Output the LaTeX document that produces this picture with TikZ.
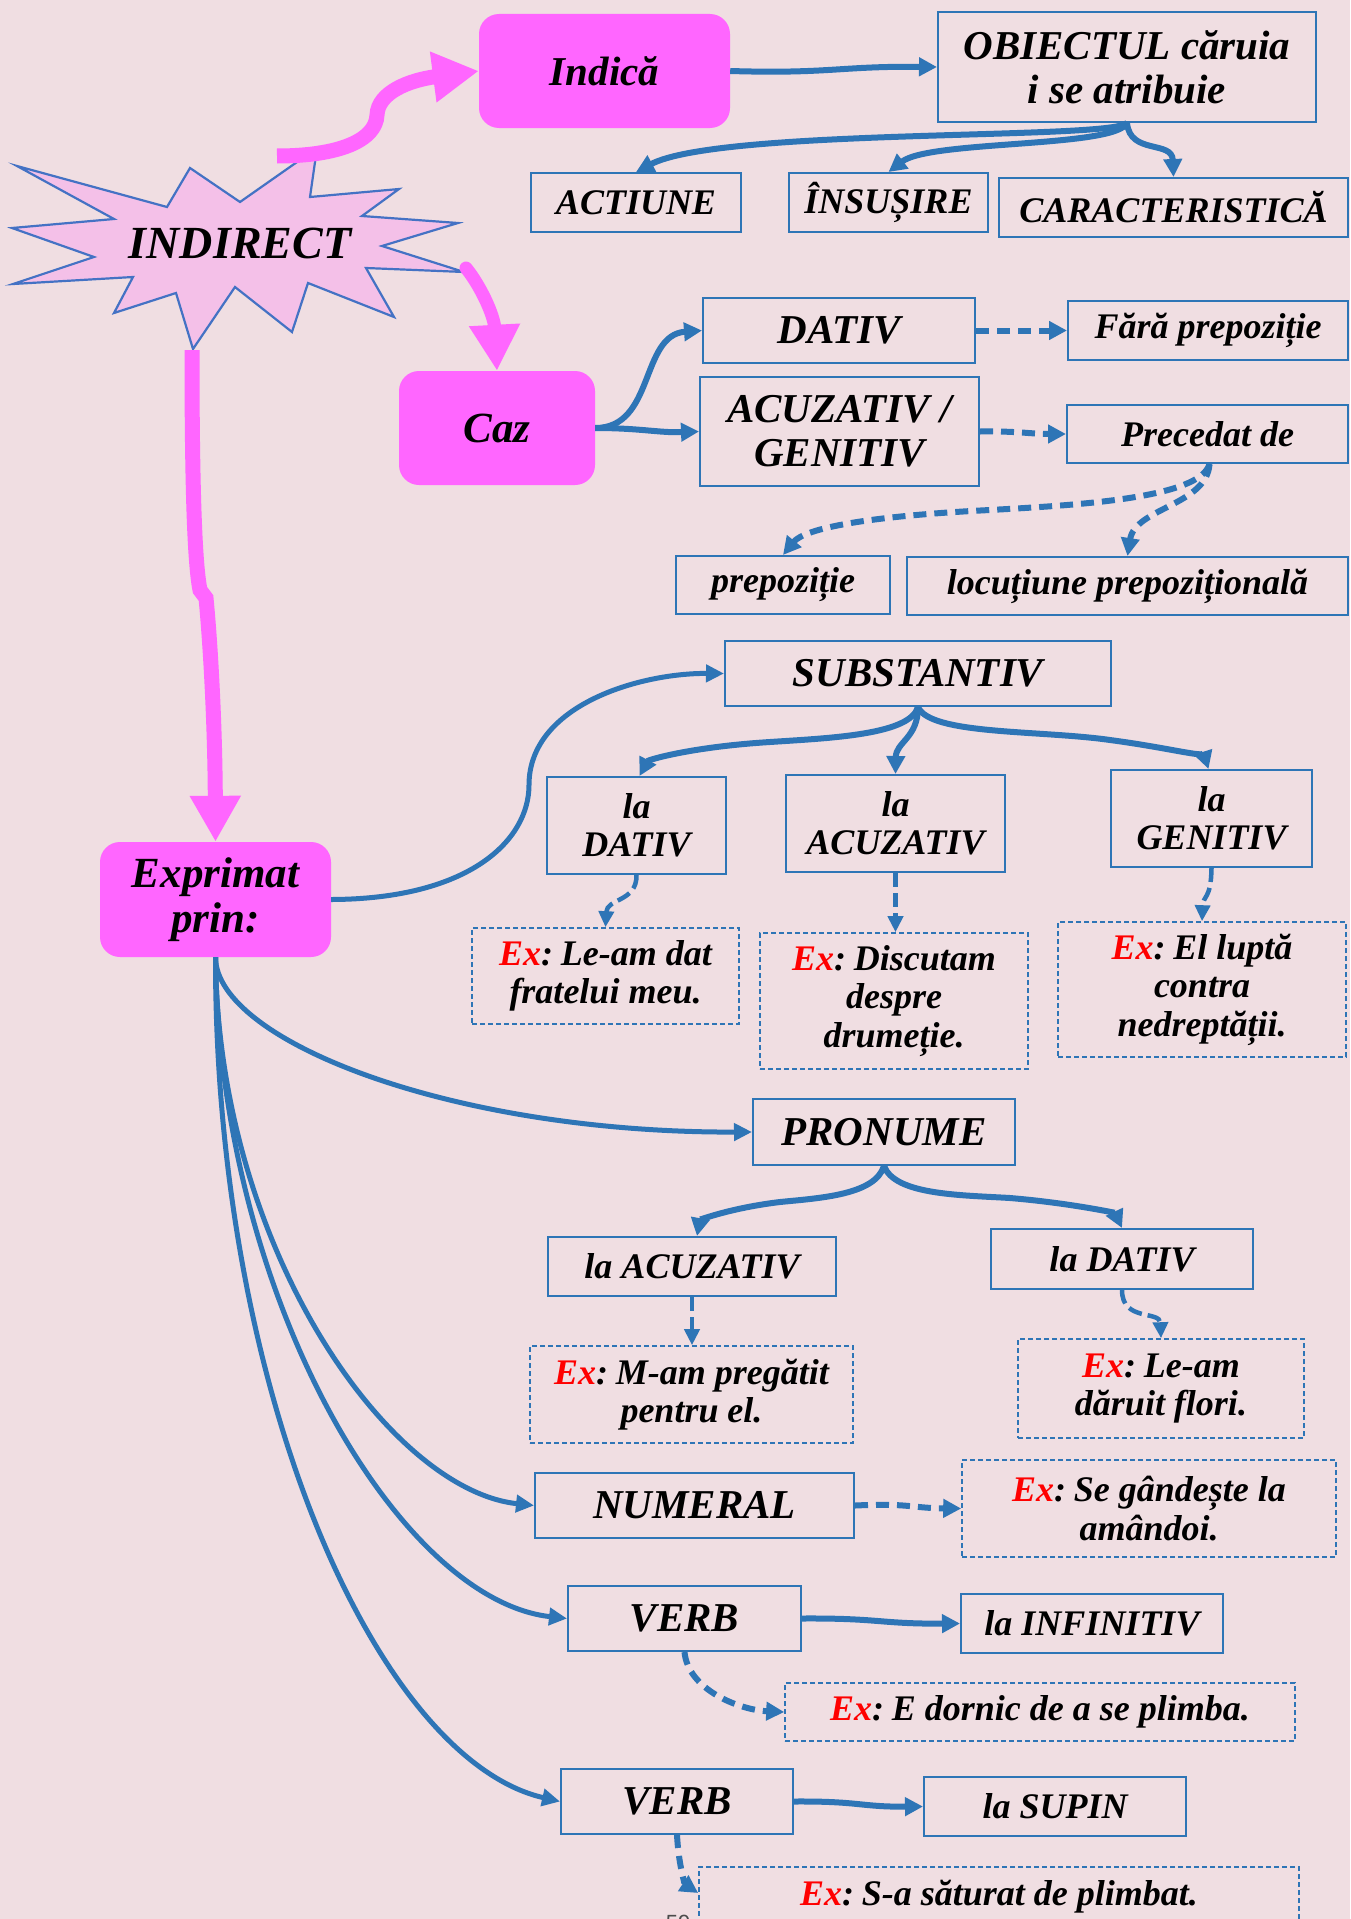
\documentclass[tikz,border=0pt]{standalone}
\usepackage{fontspec}
\setmainfont{Liberation Serif}
\setsansfont{Liberation Sans}
\usetikzlibrary{arrows.meta}
\definecolor{bg}{HTML}{F0DEE2}
\definecolor{mag}{HTML}{FF66FF}
\definecolor{ablue}{HTML}{2E75B6}
\definecolor{starfill}{HTML}{F4C0E8}
\definecolor{starline}{HTML}{4472C4}
\newcommand\fbig{\fontsize{41}{44}\selectfont}
\newcommand\fsml{\fontsize{36}{38.5}\selectfont}
\newcommand\exr{\textcolor{red}{Ex}:\hspace{-0.12em}}
\begin{document}
\begin{tikzpicture}[x=1pt,y=-1pt,
  box/.style={draw=ablue, line width=2pt, inner sep=2pt, align=center, text=black, font=\bfseries\itshape\fsml},
  bigbox/.style={box, font=\bfseries\itshape\fbig},
  exbox/.style={box, line width=1.6pt, dash pattern=on 5pt off 3pt},
  pinkbox/.style={fill=mag, rounded corners=20pt, inner sep=2pt, align=center, text=black, font=\bfseries\itshape\fbig},
  arr/.style={draw=ablue, line width=6pt, -{Triangle[length=18pt,width=18pt]}},
  darr/.style={arr, dash pattern=on 13pt off 8pt},
  tarr/.style={draw=ablue, line width=4.5pt, dash pattern=on 14pt off 6pt, -{Triangle[length=16pt,width=15pt]}},
  carr/.style={draw=ablue, line width=5pt, -{Triangle[length=18pt,width=17pt]}},
  parr/.style={draw=mag, line width=15pt, -{Triangle[length=46pt,width=48pt]}}
]
\useasboundingbox (0,0) rectangle (1350,1919);
\fill[bg] (0,0) rectangle (1350,1919);

% starburst
\filldraw[fill=starfill, draw=starline, line width=2.2pt, line join=miter]
 (17,166) -- (167,207) -- (190,168) -- (240,202) -- (317,148) -- (310,197) -- (399,189) -- (362,216)
 -- (458,223) -- (382,246) -- (464,272) -- (366,268) -- (394,317) -- (308,283) -- (292,332) -- (235,287)
 -- (193,349) -- (176,293) -- (114,313) -- (133,277) -- (13,284) -- (94,257) -- (12,228) -- (114,219) -- cycle;
\node[font=\bfseries\itshape\fontsize{46}{46}\selectfont, inner sep=0pt] (star) at (240,243) {INDIRECT};

% nodes
\node[pinkbox, minimum width=251pt, minimum height=114pt] (ind) at (604.5,71) {Indică};
\node[bigbox, minimum width=378pt, minimum height=110pt] (obj) at (1127,67) {OBIECTUL căruia\\ i se atribuie};
\node[box, minimum width=210pt, minimum height=59pt] (act) at (636,202.5) {ACTIUNE};
\node[box, minimum width=199pt, minimum height=59pt] (ins) at (888.5,202.5) {ÎNSUȘIRE};
\node[box, minimum width=349pt, minimum height=59pt] (car) at (1173.5,207.5) {CARACTERISTICĂ};
\node[pinkbox, minimum width=196pt, minimum height=114pt, font=\bfseries\itshape\fontsize{43}{45}\selectfont] (caz) at (497,428) {Caz};
\node[bigbox, minimum width=272pt, minimum height=65pt] (dat) at (839,330.5) {DATIV};
\node[box, minimum width=280pt, minimum height=59pt] (fara) at (1208,330.5) {Fără prepoziție};
\node[bigbox, minimum width=279pt, minimum height=109pt] (acg) at (839.5,431.5) {ACUZATIV /\\ GENITIV};
\node[box, minimum width=281pt, minimum height=58pt] (prec) at (1207.5,434) {Precedat de};
\node[box, minimum width=214pt, minimum height=58pt] (prep) at (783,585) {prepoziție};
\node[box, minimum width=441pt, minimum height=58pt] (loc) at (1127.5,586) {locuțiune prepozițională};

\node[bigbox, minimum width=386pt, minimum height=65pt] (sub) at (918,673.5) {SUBSTANTIV};
\node[box, minimum width=179pt, minimum height=97pt] (lds) at (636.5,825.5) {la\\ DATIV};
\node[box, minimum width=219pt, minimum height=97pt] (las) at (895.5,823.5) {la\\ ACUZATIV};
\node[box, minimum width=201pt, minimum height=97pt] (lgs) at (1211.5,818.5) {la\\ GENITIV};
\node[exbox, minimum width=267pt, minimum height=96pt] (e1) at (605.5,976) {\exr{} Le-am dat\\ fratelui meu.};
\node[exbox, minimum width=268pt, minimum height=136pt] (e2) at (894,1001) {\exr{} Discutam\\ despre\\ drumeție.};
\node[exbox, minimum width=288pt, minimum height=135pt] (e3) at (1202,989.5) {\exr{} El luptă\\ contra\\ nedreptății.};
\node[pinkbox, minimum width=231pt, minimum height=115pt, font=\bfseries\itshape\fontsize{43}{45}\selectfont] (exp) at (215.5,899.5) {Exprimat\\ prin:};

\node[bigbox, minimum width=262pt, minimum height=66pt] (pron) at (884,1132) {PRONUME};
\node[box, minimum width=288pt, minimum height=59pt] (lap) at (692,1266.5) {la ACUZATIV};
\node[box, minimum width=262pt, minimum height=60pt] (ldp) at (1122,1259) {la DATIV};
\node[exbox, minimum width=323pt, minimum height=97pt] (e4) at (691.5,1394.5) {\exr{} M-am pregătit\\ pentru el.};
\node[exbox, minimum width=286pt, minimum height=99pt] (e5) at (1161,1388.5) {\exr{} Le-am\\ dăruit flori.};
\node[bigbox, minimum width=319pt, minimum height=65pt] (num) at (694.5,1505.5) {NUMERAL};
\node[exbox, minimum width=374pt, minimum height=97pt] (e6) at (1149,1508.5) {\exr{} Se gândește la\\ amândoi.};
\node[bigbox, minimum width=233pt, minimum height=65pt] (v1) at (684.5,1618.5) {VERB};
\node[box, minimum width=262pt, minimum height=59pt] (linf) at (1092,1623.5) {la INFINITIV};
\node[exbox, minimum width=510pt, minimum height=58pt] (e7) at (1040,1712) {\exr{} E dornic de a se plimba.};
\node[bigbox, minimum width=232pt, minimum height=65pt] (v2) at (677,1801.5) {VERB};
\node[box, minimum width=262pt, minimum height=59pt] (lsup) at (1055,1806.5) {la SUPIN};
\node[exbox, minimum width=600pt, minimum height=60pt] (e8) at (999,1897) {\exr{} S-a săturat de plimbat.};
\node[font=\sffamily\fontsize{22}{22}\selectfont, text=black!70, anchor=north, inner sep=0pt] (pg) at (678,1915) {59};

% pink arrows
\coordinate (pA) at (277,156);
\coordinate (pB) at (466,268);
\coordinate (pC) at (192,350);
\draw[parr, line width=15pt] (pA) .. controls (340,156) and (376,140) .. (377,115) .. controls (378,92) and (410,80) .. (ind.west);
\draw[parr, line width=13pt, line cap=round] (pB) .. controls (480,285) and (494,315) .. (caz.north);
\draw[parr] (pC) .. controls (192,470) and (194,560) .. (200,590) -- (206,598) .. controls (211,650) and (215,730) .. (exp.north);

% top arrows
\draw[arr] (ind.east) .. controls (830,74) and (840,66) .. (obj.west);
\draw[arr] (obj.south) .. controls (1110,140) and (720,128) .. (act.north);
\draw[arr] (obj.south) .. controls (1115,148) and (930,140) .. (ins.north);
\draw[arr] (obj.south) .. controls (1130,155) and (1172,140) .. (car.north);

% caz arrows
\draw[arr] (caz.east) .. controls (655,428) and (640,335) .. (dat.west);
\draw[arr] (caz.east) .. controls (640,428) and (660,433) .. (acg.west);
\draw[darr] (dat.east) -- (fara.west);
\draw[darr] (acg.east) .. controls (1020,431) and (1030,434) .. (prec.west);
\draw[darr] ([xshift=2pt]prec.south) .. controls (1200,498) and (1080,505) .. (990,510) .. controls (870,516) and (805,528) .. (prep.north);
\draw[darr] ([xshift=2pt]prec.south) .. controls (1207,505) and (1135,508) .. (loc.north);

% substantiv
\draw[carr] (exp.east) .. controls (470,899) and (529,840) .. (529,785) .. controls (529,705) and (640,673) .. (sub.west);
\draw[arr] (sub.south) .. controls (910,735) and (830,738) .. (770,742) .. controls (690,747) and (648,760) .. ([xshift=3pt]lds.north);
\draw[arr] (sub.south) .. controls (918,738) and (896,742) .. (las.north);
\draw[arr] (sub.south) .. controls (930,735) and (1040,730) .. (1110,740) .. controls (1170,748) and (1205,758) .. ([xshift=-3pt]lgs.north);
\draw[tarr] (lds.south) .. controls (637,902) and (607,898) .. (e1.north);
\draw[tarr] (las.south) -- (las.south |- e2.north);
\draw[tarr] (lgs.south) .. controls (1211,900) and (1203,895) .. (e3.north);

% exprimat branches
\draw[carr] (exp.south) .. controls (216,1040) and (450,1133) .. (pron.west);
\draw[carr] (exp.south) .. controls (218,1250) and (390,1490) .. (num.west);
\draw[carr] (exp.south) .. controls (220,1300) and (400,1600) .. (v1.west);
\draw[carr] (exp.south) .. controls (215,1400) and (380,1760) .. (v2.west);

% pronume
\draw[arr] (pron.south) .. controls (875,1195) and (820,1198) .. (780,1202) .. controls (730,1208) and (700,1220) .. ([xshift=5pt]lap.north);
\draw[arr] (pron.south) .. controls (895,1195) and (960,1195) .. (1010,1198) .. controls (1070,1203) and (1115,1213) .. (ldp.north);
\draw[tarr] (lap.south) -- (lap.south |- e4.north);
\draw[tarr] (ldp.south) .. controls (1122,1322) and (1160,1310) .. (e5.north);

% numeral, verbs
\draw[darr] (num.east) .. controls (910,1503) and (910,1508) .. (e6.west);
\draw[arr] (v1.east) .. controls (880,1618) and (880,1624) .. (linf.west);
\draw[darr] (v1.south) .. controls (688,1690) and (740,1710) .. (e7.west);
\draw[arr] (v2.east) .. controls (860,1801) and (860,1807) .. (lsup.west);
\draw[darr] (v2.south) .. controls (679,1870) and (686,1885) .. ([yshift=4pt]e8.west);
\end{tikzpicture}
\end{document}
